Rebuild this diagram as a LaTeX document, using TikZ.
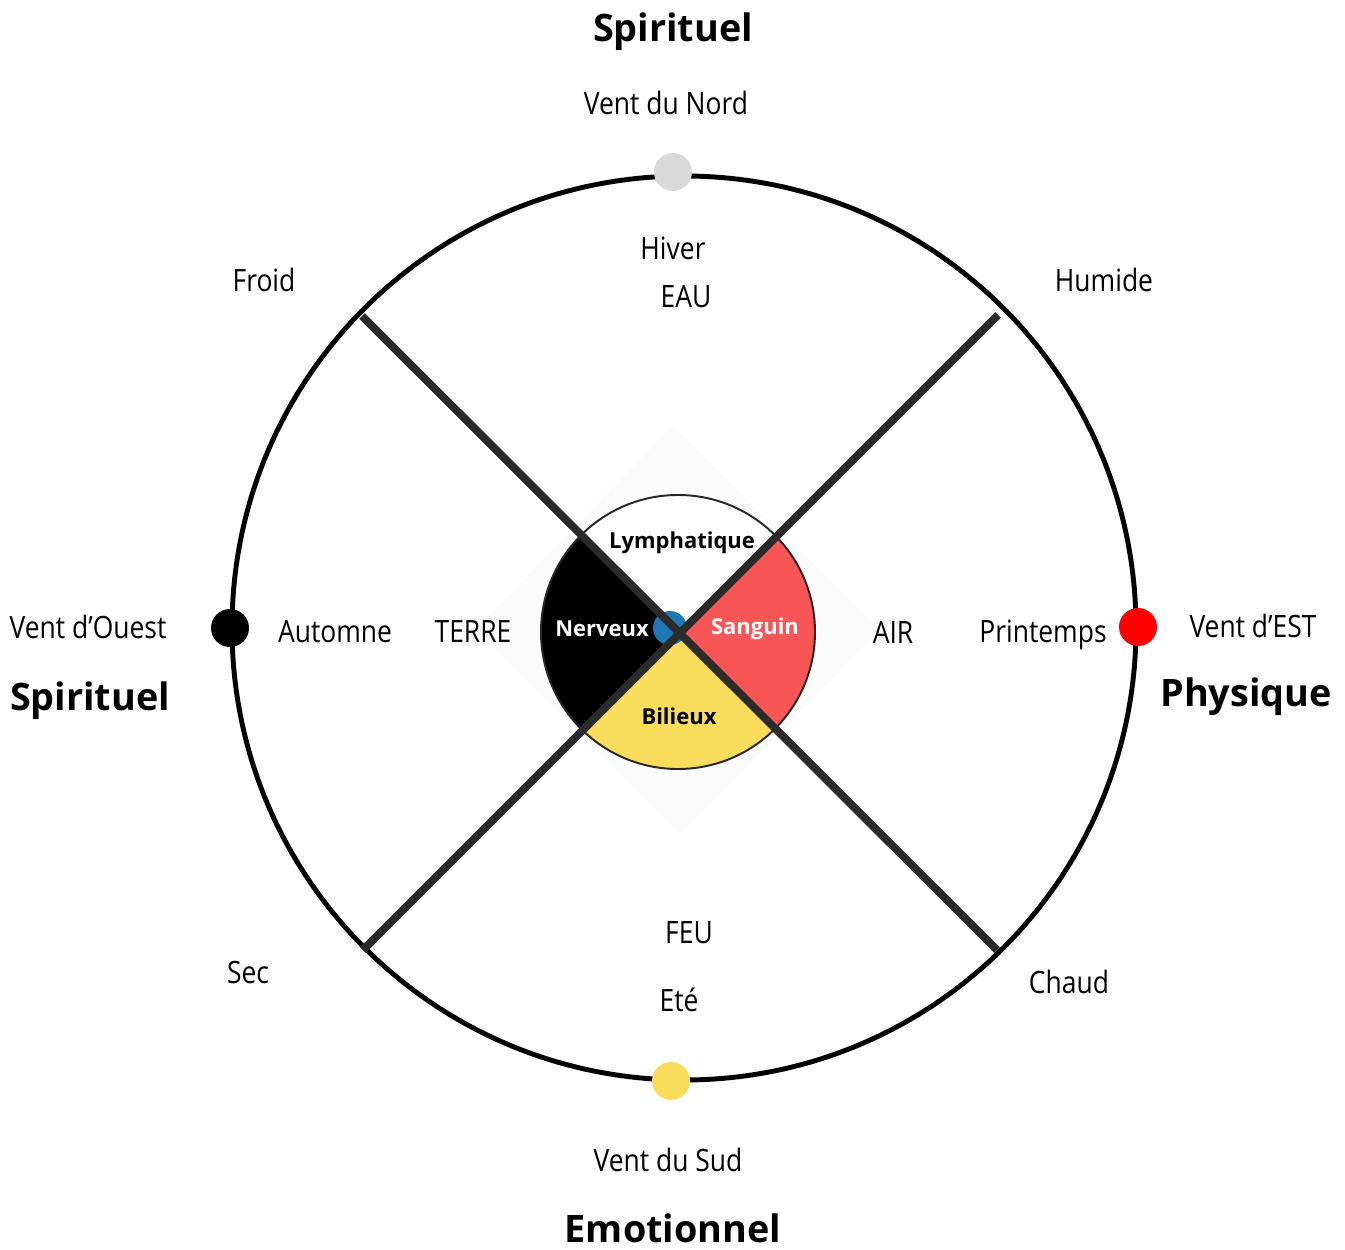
\documentclass[tikz,border=0pt]{standalone}
\usepackage{fontspec}
\setmainfont{Open Sans}
\newfontfamily\handfont[FakeStretch=0.86]{Open Sans}

\definecolor{rougesang}{HTML}{F85656}
\definecolor{jaunebile}{HTML}{F9DC5C}
\definecolor{grisnord}{HTML}{D9D9D9}
\definecolor{bleucentre}{HTML}{1F77B4}
\definecolor{trait}{HTML}{2B2B2B}

\tikzset{
  mot/.style={font=\handfont\fontsize{17.5}{20}\selectfont, inner sep=0pt},
  titre/.style={font=\bfseries\fontsize{21.5}{24}\selectfont, inner sep=0pt},
  humeur/.style={font=\bfseries\fontsize{12.5}{14}\selectfont, inner sep=0pt},
  vent/.style={circle, inner sep=0pt, minimum size=38*0.02cm},
}

\begin{document}
\begin{tikzpicture}[x=0.02cm,y=0.02cm]
  \useasboundingbox (0,0) rectangle (1345,1249);

  % centre and X ends
  \coordinate (c) at (680,616);
  \coordinate (no) at (362,933);
  \coordinate (ne) at (998,934);
  \coordinate (so) at (363,299);
  \coordinate (se) at (997,299);

  % faint diamond behind the humours
  \fill[black!1.5] (673,824) -- (880,619) -- (680,414) -- (475,619) -- cycle;

  % humours
  \begin{scope}[shift={(678,617)}]
    \fill[white] (0,0) -- (45:137) arc (45:135:137) -- cycle;
    \fill[black] (0,0) -- (135:137) arc (135:225:137) -- cycle;
    \fill[jaunebile] (0,0) -- (225:137) arc (225:315:137) -- cycle;
    \fill[rougesang] (0,0) -- (-45:137) arc (-45:45:137) -- cycle;
    \draw[line width=1.1pt, black!85] (0,0) circle (137);
  \end{scope}
  \fill[bleucentre] (670,621) circle (17);

  % wheel
  \draw[line width=2.8pt] (684,621) circle (452);
  \draw[line width=4.5pt, trait] (no) -- (se);
  \draw[line width=4.5pt, trait] (ne) -- (so);

  % winds
  \node[vent, fill=grisnord] (nord) at (673,1077) {};
  \node[vent, fill=black] (ouest) at (230,621) {};
  \node[vent, fill=red] (est) at (1138,622) {};
  \node[vent, fill=jaunebile] (sud) at (671,168) {};

  \node[titre] (tnord) at (673,1217) {Spirituel};
  \node[mot] (vnord) at (666,1146) {Vent du Nord};
  \node[mot] (hiver) at (673,1001) {Hiver};
  \node[mot] (eau) at (686,952) {EAU};

  \node[mot] (froid) at (264,969) {Froid};
  \node[mot] (humide) at (1104,969) {Humide};

  \node[mot] (vouest) at (88,622) {Vent d’Ouest};
  \node[titre] (touest) at (90,548) {Spirituel};
  \node[mot] (automne) at (335,617) {Automne};
  \node[mot] (terre) at (473,617) {TERRE};

  \node[humeur, white] (nerveux) at (602,620) {Nerveux};
  \node[humeur, white] (sanguin) at (755,620) {Sanguin};
  \node[humeur] (lymph) at (682,706) {Lymphatique};
  \node[humeur] (bilieux) at (679,533) {Bilieux};

  \node[mot] (air) at (893,617) {AIR};
  \node[mot] (printemps) at (1043,614) {Printemps};
  \node[mot] (vest) at (1253,623) {Vent d’EST};
  \node[titre] (test) at (1246,552) {Physique};

  \node[mot] (sec) at (248,276) {Sec};
  \node[mot] (chaud) at (1069,267) {Chaud};
  \node[mot] (feu) at (689,316) {FEU};
  \node[mot] (ete) at (679,249) {Eté};

  \node[mot] (vsud) at (668,89) {Vent du Sud};
  \node[titre] (tsud) at (673,21) {Emotionnel};
\end{tikzpicture}
\end{document}
